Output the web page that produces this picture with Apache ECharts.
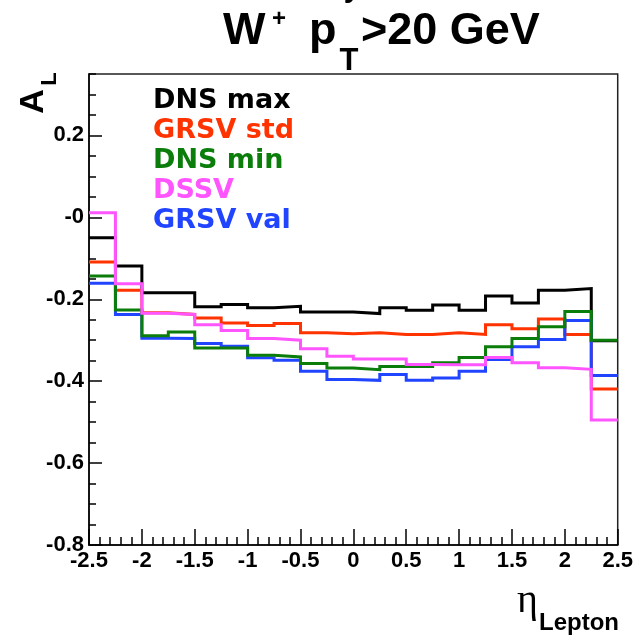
<!DOCTYPE html>
<html>
<head>
<meta charset="utf-8">
<script src="https://cdn.jsdelivr.net/npm/echarts@6/dist/echarts.min.js"></script>
<style>
html,body{margin:0;padding:0;background:#fff;}
#c{width:636px;height:635px;}
</style>
</head>
<body>
<div id="c"></div>
<script>
// bin edges in eta (20 bins of 0.25)
const binEdges = [-2.5,-2.25,-2.0,-1.75,-1.5,-1.25,-1.0,-0.75,-0.5,-0.25,0.0,0.25,0.5,0.75,1.0,1.25,1.5,1.75,2.0,2.25,2.5];
const xTicks = [-2.5,-2,-1.5,-1,-0.5,0,0.5,1,1.5,2,2.5];
const yTicks = [-0.8,-0.6,-0.4,-0.2,0,0.2];

const seriesNames = ['DNS max','GRSV std','DNS min','DSSV','GRSV val'];
const seriesColors = ['#000000','#ff3300','#0a7d0a','#ff55ff','#2044ff'];

const dnsMax  = [-0.050,-0.119,-0.184,-0.184,-0.218,-0.213,-0.221,-0.217,-0.231,-0.231,-0.235,-0.221,-0.227,-0.214,-0.227,-0.192,-0.209,-0.178,-0.174,-0.301];
const grsvStd = [-0.109,-0.178,-0.233,-0.237,-0.246,-0.258,-0.264,-0.259,-0.282,-0.284,-0.282,-0.286,-0.286,-0.282,-0.286,-0.262,-0.272,-0.248,-0.286,-0.419];
const dnsMin  = [-0.143,-0.226,-0.289,-0.280,-0.319,-0.319,-0.337,-0.341,-0.357,-0.368,-0.372,-0.364,-0.364,-0.355,-0.342,-0.316,-0.296,-0.267,-0.230,-0.300];
const dssv    = [0.011,-0.162,-0.234,-0.237,-0.262,-0.276,-0.296,-0.300,-0.321,-0.339,-0.346,-0.346,-0.359,-0.360,-0.360,-0.342,-0.355,-0.367,-0.371,-0.495];
const grsvVal = [-0.161,-0.237,-0.295,-0.296,-0.308,-0.315,-0.343,-0.349,-0.376,-0.396,-0.398,-0.384,-0.398,-0.392,-0.376,-0.347,-0.316,-0.298,-0.252,-0.386];

const allValues = [dnsMax, grsvStd, dnsMin, dssv, grsvVal];
const drawOrder = [0, 1, 4, 2, 3];

function histData(vals){
  return binEdges.map((x,i)=>[x, vals[Math.min(i, vals.length-1)]]);
}

const chart = echarts.init(document.getElementById('c'), null, {renderer:'canvas'});
const tickFont = {fontFamily:'Liberation Sans', fontWeight:'bold', fontSize:22, color:'#000'};

const option = {
  animation:false,
  backgroundColor:'#fff',
  grid:{left:89,right:17,top:74,bottom:90,show:true,borderColor:'#222',borderWidth:1.5,backgroundColor:'transparent'},
  legend:{
    orient:'vertical', left:148, top:86, padding:0, itemGap:0,
    itemWidth:0, itemHeight:0, icon:'rect', selectedMode:false,
    textStyle:{fontFamily:'DejaVu Sans', fontWeight:'bold', fontSize:27, lineHeight:30},
    data: seriesNames.map((n,i)=>({name:n, textStyle:{color:seriesColors[i]}}))
  },
  xAxis:{
    type:'value', min:xTicks[0], max:xTicks[xTicks.length-1], interval:0.5,
    axisLine:{show:true,onZero:false,lineStyle:{color:'#000',width:1.5}},
    axisTick:{show:true,inside:true,length:16,lineStyle:{color:'#000',width:1.5}},
    minorTick:{show:true,splitNumber:5,length:8,lineStyle:{color:'#000',width:1.5}},
    splitLine:{show:false}, minorSplitLine:{show:false},
    axisLabel:Object.assign({margin:5}, tickFont)
  },
  yAxis:[{
    type:'value', min:yTicks[0], max:0.35, interval:0.2,
    axisLine:{show:true,onZero:false,lineStyle:{color:'#000',width:1.5}},
    axisTick:{show:true,inside:true,length:13,lineStyle:{color:'#000',width:1.5}},
    splitLine:{show:false},
    axisLabel:Object.assign({margin:5, showMaxLabel:false,
      formatter:function(v){ if(Math.abs(v)<1e-9) return '-0'; return (Math.round(v*10)/10).toFixed(1);} }, tickFont)
  },{
    type:'value', min:yTicks[0], max:0.35, interval:0.05, position:'left',
    axisLine:{show:false,onZero:false},
    axisTick:{show:true,inside:true,length:7,lineStyle:{color:'#000',width:1.5}},
    axisLabel:{show:false}, splitLine:{show:false}
  }],
  series: drawOrder.map(i=>({
    name:seriesNames[i], type:'line', step:'end', symbol:'none', yAxisIndex:0,
    data:histData(allValues[i]),
    lineStyle:{color:seriesColors[i], width:3, join:'miter'},
    itemStyle:{color:seriesColors[i]},
    z: 2 + drawOrder.indexOf(i)
  })),
  graphic:[
    {type:'text', x:352, y:4, style:{text:'y', font:'bold 30px "Liberation Sans"', fill:'#000', align:'center', textAlign:'center', verticalAlign:'bottom', textVerticalAlign:'bottom'}},
    {type:'text', x:223, y:32, style:{text:'W', font:'bold 45px "Liberation Sans"', fill:'#000', align:'left', textAlign:'left', verticalAlign:'middle', textVerticalAlign:'middle'}},
    {type:'text', x:279, y:19, style:{text:'+', font:'bold 24px "Liberation Sans"', fill:'#000', align:'center', textAlign:'center', verticalAlign:'middle', textVerticalAlign:'middle'}},
    {type:'text', x:309, y:32, style:{text:'p', font:'bold 45px "Liberation Sans"', fill:'#000', align:'left', textAlign:'left', verticalAlign:'middle', textVerticalAlign:'middle'}},
    {type:'text', x:349, y:61.5, style:{text:'T', font:'bold 31px "Liberation Sans"', fill:'#000', align:'center', textAlign:'center', verticalAlign:'middle', textVerticalAlign:'middle'}},
    {type:'text', x:361, y:32, style:{text:'>20 GeV', font:'bold 45px "Liberation Sans"', fill:'#000', align:'left', textAlign:'left', verticalAlign:'middle', textVerticalAlign:'middle'}},
    {type:'text', x:34, y:101.5, rotation:Math.PI/2, style:{text:'A', font:'bold 34px "Liberation Sans"', fill:'#000', align:'center', textAlign:'center', verticalAlign:'middle', textVerticalAlign:'middle'}},
    {type:'text', x:49.5, y:79, rotation:Math.PI/2, style:{text:'L', font:'bold 22px "Liberation Sans"', fill:'#000', align:'center', textAlign:'center', verticalAlign:'middle', textVerticalAlign:'middle'}},
    {type:'text', x:517, y:621, style:{text:'η', font:'40px "Liberation Serif"', fill:'#000', align:'left', textAlign:'left', verticalAlign:'bottom', textVerticalAlign:'bottom'}},
    {type:'text', x:539, y:623, style:{text:'Lepton', font:'bold 24px "Liberation Sans"', fill:'#000', align:'left', textAlign:'left', verticalAlign:'middle', textVerticalAlign:'middle'}}
  ]
};
chart.setOption(option);
</script>
</body>
</html>
